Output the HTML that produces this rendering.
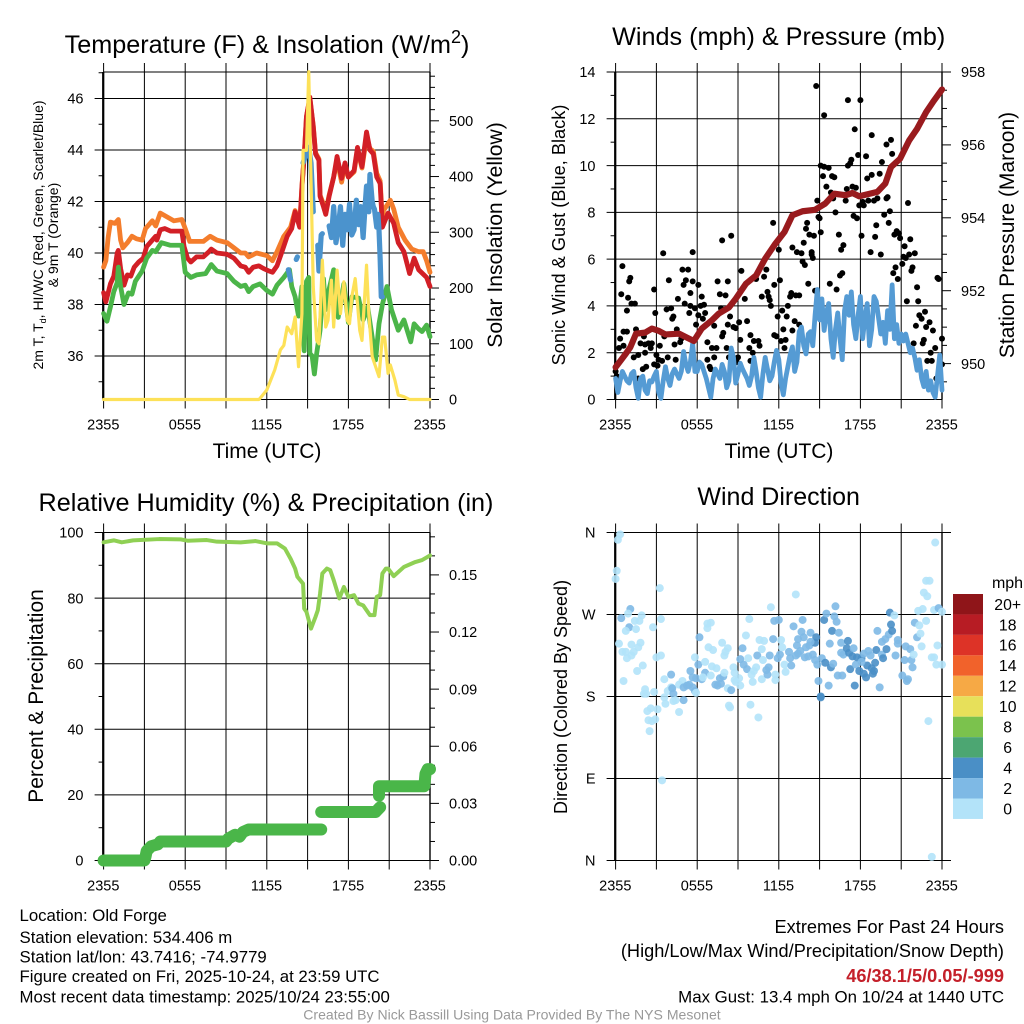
<!DOCTYPE html>
<html lang="en">
<head>
<meta charset="utf-8">
<title>Old Forge station meteogram</title>
<style>
html,body{margin:0;padding:0;background:#fff;}
svg{display:block;font-family:"Liberation Sans",sans-serif;}
</style>
</head>
<body>
<svg id="figure" xmlns="http://www.w3.org/2000/svg" width="1024" height="1024" viewBox="0 0 1024 1024">
<rect x="0" y="0" width="1024" height="1024" fill="#fff"/>
<g id="grids"></g>
<g id="marks"></g>
<text x="267" y="53" font-size="25.2" text-anchor="middle">Temperature (F) &amp; Insolation (W/m<tspan font-size="18" dy="-10">2</tspan><tspan dy="10">)</tspan></text>
<text x="778.7" y="45" font-size="25.2" text-anchor="middle">Winds (mph) &amp; Pressure (mb)</text>
<text x="266" y="511" font-size="25.2" text-anchor="middle">Relative Humidity (%) &amp; Precipitation (in)</text>
<text x="778.7" y="505" font-size="25" text-anchor="middle">Wind Direction</text>
<text x="267" y="458" font-size="21" text-anchor="middle">Time (UTC)</text>
<text x="779" y="458" font-size="21" text-anchor="middle">Time (UTC)</text>
<text transform="translate(43,235) rotate(-90)" font-size="14" text-anchor="middle">2m T, T<tspan font-size="9" dy="3">d</tspan><tspan dy="-3">, HI/WC (Red, Green, Scarlet/Blue)</tspan></text>
<text transform="translate(58,235) rotate(-90)" font-size="14" text-anchor="middle">&amp; 9m T (Orange)</text>
<text transform="translate(502,235) rotate(-90)" font-size="21.1" text-anchor="middle">Solar Insolation (Yellow)</text>
<text transform="translate(565,235) rotate(-90)" font-size="18.2" text-anchor="middle">Sonic Wind &amp; Gust (Blue, Black)</text>
<text transform="translate(1014,235) rotate(-90)" font-size="21" text-anchor="middle">Station Pressure (Maroon)</text>
<text transform="translate(43,696) rotate(-90)" font-size="21" text-anchor="middle">Percent &amp; Precipitation</text>
<text transform="translate(567,697) rotate(-90)" font-size="18" text-anchor="middle">Direction (Colored By Speed)</text>
<text x="1007.5" y="588" font-size="16" text-anchor="middle">mph</text>
<g font-size="16.8" fill="#000">
<text x="19.5" y="921">Location: Old Forge</text>
<text x="19.5" y="943">Station elevation: 534.406 m</text>
<text x="19.5" y="962.5">Station lat/lon: 43.7416; -74.9779</text>
<text x="19.5" y="982">Figure created on Fri, 2025-10-24, at 23:59 UTC</text>
<text x="19.5" y="1002.5">Most recent data timestamp: 2025/10/24 23:55:00</text>
</g>
<g font-size="18.2" text-anchor="end">
<text x="1004" y="933">Extremes For Past 24 Hours</text>
<text x="1004" y="957">(High/Low/Max Wind/Precipitation/Snow Depth)</text>
<text x="1004" y="982" font-weight="bold" fill="#c4202a">46/38.1/5/0.05/-999</text>
<text x="1004" y="1002.5" font-size="16.85">Max Gust: 13.4 mph On 10/24 at 1440 UTC</text>
</g>
<text x="512" y="1019.5" font-size="14.05" fill="#999" text-anchor="middle">Created By Nick Bassill Using Data Provided By The NYS Mesonet</text>
</svg>
<script>
// Time is a 5-minute sample index: 0 = 2355 UTC, 288 = 2355 UTC next day.
const timeLabels = ['2355', '0555', '1155', '1755', '2355'];

// Panel 1: temperature (F) and insolation (W/m2)
const tempTicks = [36, 38, 40, 42, 44, 46];
const tempMinor = [35, 37, 39, 41, 43, 45, 47];
const solarTicks = [0, 100, 200, 300, 400, 500];
const solarMinor = [20,40,60,80,120,140,160,180,220,240,260,280,320,340,360,380,420,440,460,480,520,540,560,580];

const orangeIdx = [0,2,4,6,10,13,15,17,21,25,29,34,37,43,46,50,56,62,69,72,76,82,88,94,100,109,115,121,125,128,135,144,149,153,159,165,169,173,175,177,179,182,185,187,190,191,194,196,199,203,206,210,213,216,221,224,228,232,235,238,241,244,246,247,253,256,260,266,272,278,282,285,288];
const orangeF = [39.45,39.7,40.6,41.2,41.15,41.3,40.5,40.2,40.4,40.65,40.55,40.5,40.95,41.25,41.05,41.55,41.4,41.25,41.3,40.95,40.45,40.45,40.45,40.65,40.5,40.4,40.2,40.0,40.0,39.85,40.0,39.9,39.7,40.05,40.65,41.0,41.65,41.05,42.6,43.8,45.3,46,44.95,43.9,43.65,42.25,41.9,41.6,42.25,42.95,43.6,42.75,43.4,42.95,43.15,44.0,43.3,44.5,44.05,43.95,43.1,42.8,41.3,41.65,42.05,41.7,41.0,40.5,40.15,40.05,40.05,39.7,39.25];

const redIdx = [0,2,6,9,12,13,15,18,21,24,27,31,35,38,43,46,47,50,54,59,65,69,71,74,77,82,88,93,95,100,109,115,121,125,128,132,137,141,146,149,153,157,162,166,169,173,175,177,179,182,185,187,190,191,194,196,199,203,206,210,213,216,221,224,228,232,235,238,241,244,246,251,256,260,265,270,274,278,285,288];
const redF = [38.46,38.1,38.8,39.1,40.0,40.1,39.4,38.75,39.15,39.1,39.45,39.65,39.8,40.25,40.5,40.65,40.5,40.9,40.95,40.85,40.85,40.85,40.25,39.8,39.65,39.85,39.85,40.05,40.15,40.0,39.95,39.8,39.5,39.45,39.25,39.45,39.5,39.4,39.3,39.25,39.5,40.0,40.65,40.95,41.6,41.0,42.55,43.75,45.3,46.05,44.9,43.85,43.6,42.2,41.8,41.5,42.2,42.95,43.75,42.9,43.5,42.95,43.2,44.1,43.35,44.7,44.0,43.85,42.95,42.7,41.0,41.55,41.15,40.4,40.05,39.2,39.8,39.35,39.05,38.7];

const greenIdx = [0,3,6,9,12,13,15,18,22,25,28,34,38,43,46,51,59,69,72,77,82,90,95,100,109,115,121,125,128,132,138,144,149,153,159,164,166,169,172,175,177,179,181,182,184,186,188,191,194,196,199,203,207,212,216,219,225,229,233,240,243,246,250,254,260,265,271,274,278,281,285,288];
const greenF = [37.65,37.35,37.9,38.5,38.85,39.45,38.7,38.0,38.45,38.4,38.9,39.3,39.8,40.1,40.05,40.4,40.3,40.3,39.25,39.05,39.15,39.2,39.55,39.3,39.2,38.9,38.7,38.75,38.5,38.7,38.8,38.55,38.4,38.75,39.05,39.35,38.7,38.3,37.55,38.7,36.2,38.9,39.05,36.1,36.0,35.3,36.1,37.0,39.0,37.8,38.6,39.35,37.5,38.8,37.3,38.3,38.25,37.4,37.9,35.85,37.25,38.0,38.7,37.8,37.0,37.4,36.55,37.25,37.05,36.95,37.2,36.75];

const blueIdx = [163,165,167,170,171,173,176,181,183,185,187,189,190,192,193,195,199,201,203,205,207,209,211,213,215,217,219,221,223,225,227,229,231,232,234,235,237,238,239,241,242,243,244,245,246];
const blueF = [39.35,38.95,null,39.75,39.85,null,43.5,44.1,43.5,41.6,null,40.3,39.3,40.7,40.75,null,41.05,40.6,41.8,40.4,40.95,41.8,40.3,41.5,40.9,41.9,40.7,40.9,42.05,41.1,41.8,40.6,42.0,42.6,41.6,43.05,42.0,41.8,41.7,41.0,41.5,40.9,39.8,38.3,38.3];

const solarIdx = [0,137,138,144,151,156,159,162,166,169,172,175,176,179,181,183,185,188,190,193,196,198,201,203,206,209,212,215,217,219,222,224,226,228,232,234,237,240,243,246,248,251,253,257,260,265,270,288];
const solarW = [0,0,2,17,53,89,97,130,118,148,59,154,447,447,588,394,202,106,100,250,130,142,214,130,232,154,211,142,136,184,217,172,124,106,241,154,77,59,41,112,112,47,62,35,8,5,0,0];

// Panel 2: wind, gust (mph) and pressure (mb)
const windTicks = [0, 2, 4, 6, 8, 10, 12, 14];
const windMinor = [1, 3, 5, 7, 9, 11, 13];
const pressTicks = [950, 952, 954, 956, 958];
const pressMinor = [949.5,950.5,951,951.5,952.5,953,953.5,954.5,955,955.5,956.5,957,957.5];

const gustIdx = [
0,1,3,4,6,5,7,7,10,10,
11,12,13,14,17,18,16,20,20,22,
24,25,26,26,27,29,31,32,34,34,
35,36,37,39,38,41,42,43,45,46,
47,49,50,51,53,52,54,55,57,58,
59,60,61,62,64,65,66,66,68,68,
70,71,73,73,75,76,77,78,79,81,
81,83,84,85,87,87,89,90,92,94,
93,95,94,97,98,99,100,99,101,102,
104,106,107,108,109,110,111,114,116,118,
119,119,121,122,124,126,127,129,131,133,
134,135,136,137,139,140,140,142,144,143,
145,146,147,149,150,148,151,152,154,155,
156,156,158,159,160,162,162,164,165,166,
167,168,169,170,171,173,173,174,175,176,
177,178,179,180,181,181,183,184,184,186,
188,190,191,193,192,194,189,195,197,198,
200,199,201,203,204,205,205,207,208,209,
210,211,212,213,215,214,216,217,218,219,
221,222,223,225,226,226,228,229,230,231,
233,234,235,237,239,239,240,241,242,243,
244,245,246,247,248,249,250,251,253,255,
254,256,257,258,259,260,261,262,263,264,
265,266,267,268,270,271,272,273,274,275,
277,278,279,280,282,283,284,285,288,288];
const gustMph = [
1.2,1.0,2.2,2.6,5.7,4.5,2.3,2.9,2.9,3.8,
4.35,5.05,5.2,4.1,4.1,3.0,1.8,0.9,1.9,2.4,
1.3,2.7,2.35,2.0,1.4,2.4,2.2,2.4,4.7,1.5,
3.7,1.9,1.45,2.3,1.7,1.65,6.25,2.7,3.85,1.8,
5.1,3.9,3.45,3.55,1.7,2.35,3.0,4.3,2.45,2.6,
5.55,4.9,4.1,5.1,5.55,3.7,4.55,4.0,6.3,5.05,
3.9,3.2,3.6,4.9,4.0,4.4,3.45,4.05,3.7,1.7,
2.45,1.4,1.3,2.2,1.8,3.15,2.2,5.05,4.5,2.7,
3.9,2.85,6.8,4.45,2.2,5.05,1.8,3.2,3.55,7.0,
3.1,3.05,1.6,1.8,3.3,2.55,5.5,4.3,3.35,2.2,
2.75,1.65,2.0,2.5,5.15,2.5,2.3,4.4,5.25,5.55,
4.6,4.4,4.25,4.0,7.55,4.9,2.75,2.7,6.4,3.55,
5.1,2.5,3.8,2.2,2.55,3.0,3.55,4.0,4.4,4.55,
2.95,6.5,3.35,4.45,6.3,4.45,3.2,6.25,5.9,6.7,
5.75,7.3,7.55,4.95,7.05,6.2,6.3,6.05,7.0,4.65,
13.4,8.5,7.8,7.75,7.15,10.0,9.55,12.15,9.95,9.1,
9.9,8.85,9.55,9.5,8.6,8.0,4.95,4.7,7.05,5.3,
5.4,6.4,6.6,8.5,9.0,12.8,10.0,10.1,10.25,9.1,
7.85,11.55,9.05,7.75,8.3,10.45,12.8,7.0,8.45,8.3,
10.4,9.45,8.5,6.3,9.6,11.3,8.5,6.95,7.45,8.6,
9.65,6.2,10.15,7.9,10.9,8.6,8.65,7.55,8.05,11.1,
10.5,5.4,7.05,5.65,7.2,5.15,7.1,6.9,5.8,6.55,
6.1,6.05,4.2,8.4,6.2,6.85,5.5,5.65,2.4,6.25,
3.15,4.8,4.2,3.6,3.45,2.4,2.55,3.75,3.1,1.65,
3.3,2.0,1.65,2.95,2.2,0.9,5.2,5.15,2.6,1.5];

// Sonic wind, one value per 10 minutes (sample index 0, 2, 4 ... 288)
const windMph = [
.9,.3,.8,1.2,1.0,.8,.7,1.1,1.2,.5,.05,.9,1.0,.4,.25,.8,.75,1.0,1.2,.3,
.05,.8,1.4,.9,.6,1.1,1.3,1.1,.9,1.2,2.05,1.5,1.2,1.6,2.4,1.2,1.2,1.6,1.5,1.2,
.9,.5,.1,.9,1.3,1.1,.9,1.5,1.2,.5,.8,2.2,1.8,.7,1.1,1.55,1.3,1.1,.9,.6,
1.0,1.8,1.2,.5,.1,1.1,1.8,1.3,.8,1.0,1.6,2.1,1.7,.7,.2,.9,1.4,1.9,2.25,1.2,
1.6,2.9,3.1,2.3,1.95,2.8,2.9,2.3,3.6,4.7,3.4,4.3,2.95,3.7,4.1,2.6,1.8,3.0,3.7,2.6,
1.7,3.8,4.4,3.6,4.6,3.2,2.6,3.6,4.4,2.6,3.5,4.1,2.3,3.0,4.4,4.2,3.5,2.8,3.3,2.4,
3.8,3.0,4.9,2.6,3.2,2.4,2.8,2.5,2.8,2.4,2.0,2.2,1.8,1.25,1.7,.9,.55,1.2,.4,.8,
.3,.1,1.0,1.9,.4];

const pressIdx = [0,9,13,18,26,32,38,44,56,69,76,85,91,100,106,115,124,132,141,149,156,165,176,185,193,203,209,215,231,238,243,251,259,266,274,281,288];
const pressMb = [949.9,950.27,950.45,950.82,950.85,950.96,950.9,950.8,950.82,950.62,950.96,951.19,951.37,951.54,951.78,952.19,952.42,952.88,953.29,953.61,954.07,954.18,954.22,954.39,954.66,954.62,954.68,954.59,954.71,954.94,955.39,955.62,956.12,956.44,956.9,957.22,957.52];

// Panel 3: relative humidity (%) and precipitation (in)
const rhTicks = [0, 20, 40, 60, 80, 100];
const rhMinor = [10, 30, 50, 70, 90];
const precipTicks = ['0.00', '0.03', '0.06', '0.09', '0.12', '0.15'];
const precipMinor = [0.01,0.02,0.04,0.05,0.07,0.08,0.10,0.11,0.13,0.14,0.16,0.17];

const rhIdx = [0,9,16,26,49,68,74,91,100,121,134,144,153,160,165,169,171,176,177,179,183,187,189,191,193,197,200,203,208,212,216,221,225,229,235,239,241,244,246,249,251,256,265,275,281,288];
const rhPct = [97,97.6,97,97.6,98,97.9,97.5,97.7,97.2,97,97.4,96.7,96.7,95.1,92,89,86.5,84.4,76.8,75.8,70.7,74.3,76.3,81.4,87.5,89,88.5,85.5,79.9,83.4,80.4,80.9,78.3,77.8,74.8,74.8,80.4,80.9,87.5,89,89,86.7,89.5,91,91.6,93];

const precipIdx = [0,36,37,38,42,45,48,50,108,110,116,120,123,128,192,192,192,240,244,244,243,243,283,284,286,288];
const precipIn = [0,0,.002,.005,.0075,.008,.0085,.01,.01,.0115,.0135,.0125,.015,.0163,.0163,null,.0255,.0255,.028,null,.034,.039,.039,.0455,.048,.048];

// Panel 4: wind direction (deg) coloured by speed (mph)
const dirLabels = ['N', 'E', 'S', 'W', 'N'];
const dirTicks = [0, 90, 180, 270, 360];
const legendLabels = ['20+', '18', '16', '14', '12', '10', '8', '6', '4', '2', '0'];
const legendColors = ['#8f1519', '#b71c24', '#dd3327', '#f1622b', '#f6a945', '#e7e05a', '#7bc24d', '#4ca672', '#4a8fc6', '#7eb9e5', '#b3e3f9'];

const dirIdx = [
4,2,1,0,13,11,5,12,23,21,
17,18,9,3,14,22,20,16,6,9,
14,10,24,19,7,39,40,33,36,40,
26,25,27,34,43,49,46,49,50,43,
44,51,53,51,60,56,59,60,63,65,
68,70,71,56,37,31,28,35,32,29,
30,41,66,68,73,74,70,71,76,79,
79,77,81,84,81,82,86,85,89,84,
88,92,95,90,93,96,94,99,97,96,
99,102,104,105,100,101,105,109,110,106,
112,110,113,116,117,115,118,120,121,119,
122,124,125,126,127,131,129,130,129,135,
133,134,136,137,139,140,144,141,141,143,
145,146,147,149,150,153,154,155,157,159,
160,161,159,161,164,165,166,168,167,171,
170,172,174,176,177,176,178,179,181,182,
184,185,186,188,189,190,191,192,193,194,
195,197,196,199,200,199,201,204,205,206,
209,207,211,212,213,215,217,219,219,221,
222,223,225,226,228,229,230,231,233,235,
236,235,238,239,241,242,243,244,246,247,
249,249,253,256,255,257,258,260,261,262,
263,264,266,267,269,268,270,271,272,274,
274,277,275,276,279,281,279,282,281,283,
284,285,288,288,181,172,163,210,217,227];
const dirDeg = [
358,352,318,309,276,271,266,256,269,263,
263,254,252,238,237,239,234,229,229,229,
225,222,214,208,197,299,265,256,223,225,
188,183,183,185,199,204,186,190,189,179,
172,183,176,175,176,193,197,190,192,193,
190,186,184,163,166,167,164,155,153,154,
142,88,208,201,215,245,223,200,199,206,
218,201,260,261,255,234,231,213,211,203,
193,200,202,192,194,206,239,233,229,225,
189,187,212,206,170,168,198,200,192,196,
233,221,215,210,222,247,265,204,196,171,
208,212,225,157,242,241,232,220,199,212,
209,204,225,278,243,263,264,198,204,222,
226,242,234,215,207,229,222,214,257,292,
236,243,225,227,251,264,245,234,223,236,
224,250,226,220,245,239,215,197,179,222,
264,217,271,192,238,212,252,216,268,279,
262,250,203,239,203,228,226,233,241,228,
224,210,192,215,223,208,222,205,227,201,
214,230,225,211,208,217,231,252,190,226,
222,240,243,232,248,272,259,252,269,225,
238,242,203,235,220,197,199,232,220,212,
226,261,245,274,249,258,235,276,294,263,
307,307,290,153,223,223,4,349,275,215,
236,277,215,273,180,240,230,233,218,205];
const dirSpeed = [
1,1,1,1,3,1,3,3,1,1,
1,1,1,1,1,1,1,1,1,1,
1,1,1,1,1,1,1,1,1,1,
1,1,1,1,1,3,1,1,3,1,
1,3,1,1,3,1,1,3,3,3,
3,3,1,1,1,1,1,1,1,1,
1,1,3,3,3,3,1,3,3,3,
1,1,1,1,1,1,1,1,1,1,
3,3,3,3,3,1,1,1,1,1,
1,3,1,1,1,1,1,1,1,1,
3,3,3,3,1,1,1,1,1,1,
1,1,3,1,1,1,1,1,1,3,
3,3,3,1,3,3,3,1,1,3,
3,1,1,1,1,3,3,3,3,1,
3,3,3,3,3,3,3,3,3,3,
3,3,3,3,5,5,3,3,5,3,
5,5,3,3,3,5,5,3,3,3,
3,3,3,3,3,3,3,5,5,5,
5,5,5,3,5,5,5,5,3,5,
5,3,3,5,5,5,5,3,3,3,
5,3,3,5,3,5,5,5,1,3,
3,3,3,3,3,3,3,3,3,3,
1,3,3,1,1,1,1,1,1,1,
1,1,1,1,1,1,1,1,1,1,
1,3,1,1,5,3,3,3,3,5];

// Axis functions
const LEFT_PANEL = 0, RIGHT_PANEL = 512;
const TOP_A = 72, BOT_A = 399.5, TOP_B = 532.5, BOT_B = 860.5;
function xAt(i, ox) { return ox + 103.6 + i * 326.4 / 288; }
function tempY(v) { return 98.5 + (46 - v) * 25.75; }
function solarY(v) { return 399.5 - v * 0.5574; }
function windY(v) { return 399.5 - v * 23.393; }
function pressY(v) { return 72 + (958 - v) * 36.45; }
function rhY(v) { return 860.5 - v * 3.28; }
function precipY(v) { return 860.5 - v * 1904; }
function dirY(v) { return 860.5 - v * 328 / 360; }

const SVGNS = 'http://www.w3.org/2000/svg';
const grids = document.getElementById('grids');
const marks = document.getElementById('marks');

function addLine(x1, y1, x2, y2, w, name) {
  const el = document.createElementNS(SVGNS, 'line');
  el.setAttribute('x1', x1);
  el.setAttribute('y1', y1);
  el.setAttribute('x2', x2);
  el.setAttribute('y2', y2);
  el.setAttribute('stroke', '#000');
  el.setAttribute('stroke-width', w);
  
  
  grids.appendChild(el);
}
function addLabel(x, y, s, anchor, name, size) {
  const el = document.createElementNS(SVGNS, 'text');
  el.setAttribute('x', x);
  el.setAttribute('y', y);
  el.setAttribute('font-size', size || '14.5');
  el.setAttribute('text-anchor', anchor);
  el.textContent = s;
  
  
  grids.appendChild(el);
}
function addPath(idx, vals, ox, yFn, color, width, name, opacity) {
  let d = '';
  let pen = false;
  const n = Math.min(idx.length, vals.length);
  for (let k = 0; k < n; k++) {
    if (vals[k] === null) { pen = false; continue; }
    d += (pen ? 'L' : 'M') + xAt(idx[k], ox).toFixed(2) + ' ' + yFn(vals[k]).toFixed(2);
    pen = true;
  }
  const el = document.createElementNS(SVGNS, 'path');
  el.setAttribute('d', d);
  el.setAttribute('fill', 'none');
  el.setAttribute('stroke', color);
  el.setAttribute('stroke-width', width);
  el.setAttribute('stroke-linecap', 'round');
  el.setAttribute('stroke-linejoin', 'round');
  if (opacity) el.setAttribute('stroke-opacity', opacity);
  
  
  marks.appendChild(el);
}
function addDot(x, y, r, color, name, opacity) {
  const el = document.createElementNS(SVGNS, 'circle');
  el.setAttribute('cx', x.toFixed(2));
  el.setAttribute('cy', y.toFixed(2));
  el.setAttribute('r', r);
  el.setAttribute('fill', color);
  if (opacity) el.setAttribute('fill-opacity', opacity);
  
  
  marks.appendChild(el);
}

function drawFrame(ox, top, bot, prefix, extendRight) {
  const lx = xAt(0, ox), rx = xAt(288, ox);
  for (let k = 0; k <= 8; k++) {
    addLine(xAt(k * 36, ox), top - 9, xAt(k * 36, ox), bot + 9, 1, prefix + '-x-gridline');
    if (k % 2 === 0) addLabel(xAt(k * 36, ox) - 0.3, bot + 30, timeLabels[k / 2], 'middle', prefix + '-x-tick-label');
  }
  addLine(lx - 0.4, top, lx - 0.4, bot, 2.2, prefix + '-left-axis');
  addLine(rx, top, rx, bot, 1.4, prefix + '-right-axis');
  addLine(lx, top, rx, top, 1, prefix + '-top-border');
  addLine(lx, bot, rx + (extendRight ? 9 : 0), bot, 1, prefix + '-bottom-border');
}
function drawLeft(ox, ticks, labels, minor, yFn, prefix, extendRight) {
  const lx = xAt(0, ox), rx = xAt(288, ox) + (extendRight ? 9 : 0);
  ticks.forEach(function (v, k) {
    addLine(lx - 9, yFn(v), rx, yFn(v), 1, prefix + '-y-gridline');
    addLabel(ox + 83.5, yFn(v) + 5.2, String(labels[k]), 'end', prefix + '-y-tick-label');
  });
  minor.forEach(function (v) {
    addLine(lx - 5, yFn(v), lx, yFn(v), 1, prefix + '-y-minor-tick');
  });
}
function drawRight(ox, ticks, labels, minor, yFn, prefix) {
  const rx = xAt(288, ox);
  ticks.forEach(function (v, k) {
    addLine(rx, yFn(v), rx + 9, yFn(v), 1, prefix + '-right-tick');
    addLabel(ox + 449, yFn(v) + 5.2, String(labels[k]), 'start', prefix + '-right-tick-label');
  });
  minor.forEach(function (v) {
    addLine(rx, yFn(v), rx + 5, yFn(v), 1, prefix + '-right-minor-tick');
  });
}

// Panel 1
drawFrame(LEFT_PANEL, TOP_A, BOT_A, 'temperature', false);
drawLeft(LEFT_PANEL, tempTicks, tempTicks, tempMinor, tempY, 'temperature', false);
drawRight(LEFT_PANEL, solarTicks, solarTicks, solarMinor, solarY, 'solar');
addPath(orangeIdx, orangeF, LEFT_PANEL, tempY, '#f47d2c', 4.8, 'series-9m-temperature');
addPath(redIdx, redF, LEFT_PANEL, tempY, '#d21f26', 4.8, 'series-2m-temperature');
addPath(greenIdx, greenF, LEFT_PANEL, tempY, '#4bb549', 4.8, 'series-dewpoint');
addPath(blueIdx, blueF, LEFT_PANEL, tempY, '#4b93cd', 5.2, 'series-heat-index-wind-chill');
addPath(solarIdx, solarW, LEFT_PANEL, solarY, '#fde158', 3.2, 'series-solar-insolation');

// Panel 2
drawFrame(RIGHT_PANEL, TOP_A, BOT_A, 'winds', false);
drawLeft(RIGHT_PANEL, windTicks, windTicks, windMinor, windY, 'winds', false);
drawRight(RIGHT_PANEL, pressTicks, pressTicks, pressMinor, pressY, 'pressure');
for (let k = 0; k < gustIdx.length; k++) {
  addDot(xAt(gustIdx[k], RIGHT_PANEL), windY(gustMph[k]), 3, '#000', 'gust-point');
}
addPath(windMph.map(function (_, k) { return k * 2; }), windMph, RIGHT_PANEL, windY, '#559bd4', 4.8, 'series-sonic-wind');
addPath(pressIdx, pressMb, RIGHT_PANEL, pressY, '#991b1e', 6.2, 'series-station-pressure');

// Panel 3
drawFrame(LEFT_PANEL, TOP_B, BOT_B, 'humidity', false);
drawLeft(LEFT_PANEL, rhTicks, rhTicks, rhMinor, rhY, 'humidity', false);
drawRight(LEFT_PANEL, precipTicks.map(Number), precipTicks, precipMinor, precipY, 'precipitation');
addPath(rhIdx, rhPct, LEFT_PANEL, rhY, '#8fd054', 4, 'series-relative-humidity');
addPath(precipIdx, precipIn, LEFT_PANEL, precipY, '#4ab649', 12, 'series-precipitation');

// Panel 4
drawFrame(RIGHT_PANEL, TOP_B, BOT_B, 'direction', true);
drawLeft(RIGHT_PANEL, dirTicks, dirLabels, [], dirY, 'direction', true);
for (let k = 0; k < dirIdx.length; k++) {
  const bin = Math.min(10, Math.floor(dirSpeed[k] / 2));
  addDot(xAt(dirIdx[k], RIGHT_PANEL), dirY(dirDeg[k]), 4, legendColors[10 - bin], 'direction-point', 0.9);
}
legendLabels.forEach(function (s, k) {
  const box = document.createElementNS(SVGNS, 'rect');
  box.setAttribute('x', 953);
  box.setAttribute('y', (594 + k * 20.45).toFixed(2));
  box.setAttribute('width', 30);
  box.setAttribute('height', 20.45);
  box.setAttribute('fill', legendColors[k]);
  
  
  grids.appendChild(box);
  addLabel(1007.7, 609.8 + k * 20.45, s, 'middle', 'legend-label', '15.8');
});
</script>
</body>
</html>
